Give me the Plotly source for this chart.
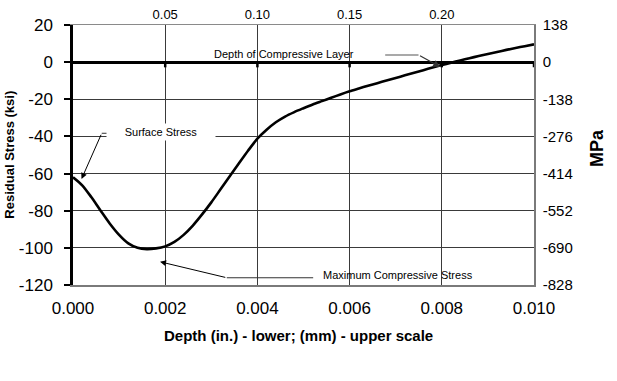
import plotly.graph_objects as go

# ---- data ----
depth_in = [0, 0.0002, 0.0004, 0.0006, 0.0008, 0.001, 0.0012, 0.0014, 0.0016, 0.0018,
            0.002, 0.0022, 0.0024, 0.0026, 0.0028, 0.003, 0.0032, 0.0034, 0.0036, 0.0038,
            0.004, 0.0042, 0.0044, 0.0046, 0.0048, 0.005, 0.0052, 0.0054, 0.0056, 0.0058,
            0.006, 0.0062, 0.0064, 0.0066, 0.0068, 0.007, 0.0072, 0.0074, 0.0076, 0.0078,
            0.008, 0.0082, 0.0084, 0.0086, 0.0088, 0.009, 0.0092, 0.0094, 0.0096, 0.0098,
            0.010]
stress_ksi = [-62, -66.3, -72.8, -80, -87, -93, -97.6, -100, -100.7, -100.3,
              -99.2, -96.8, -93, -88, -82, -75.5, -68.5, -61.5, -54.5, -47.6,
              -41.2, -36.4, -32.4, -29.3, -26.9, -24.8, -22.8, -21, -19.2, -17.4,
              -15.7, -14.2, -12.7, -11.3, -9.9, -8.5, -7.1, -5.7, -4.3, -2.9,
              -1.6, -0.3, 0.9, 2.1, 3.3, 4.4, 5.5, 6.6, 7.6, 8.6,
              9.6]

x_ticks_in = [0, 0.002, 0.004, 0.006, 0.008, 0.010]
x_ticktext_in = ["0.000", "0.002", "0.004", "0.006", "0.008", "0.010"]
top_ticks_mm = [0.05, 0.10, 0.15, 0.20]
top_ticktext_mm = ["0.05", "0.10", "0.15", "0.20"]
y_ticks_ksi = [20, 0, -20, -40, -60, -80, -100, -120]
y_ticks_mpa = [138, 0, -138, -276, -414, -552, -690, -828]

FONT = "Arial, Liberation Sans, sans-serif"

fig = go.Figure()
fig.add_trace(go.Scatter(x=depth_in, y=stress_ksi, mode="lines",
                         line=dict(color="black", width=2.6, shape="spline", smoothing=0.8),
                         showlegend=False, hoverinfo="skip"))
# invisible trace to activate the secondary (mm / MPa) axes
fig.add_trace(go.Scatter(x=[v * 25.4 for v in depth_in], y=[v * 6.9 for v in stress_ksi],
                         xaxis="x2", yaxis="y2", mode="lines", opacity=0,
                         showlegend=False, hoverinfo="skip"))

fig.update_layout(
    width=617, height=381,
    margin=dict(l=73, r=83, t=25, b=96, autoexpand=False),
    paper_bgcolor="white", plot_bgcolor="white",
    font=dict(family=FONT, color="black"),
    xaxis=dict(range=[0, 0.010], tickvals=x_ticks_in, ticktext=x_ticktext_in,
               showgrid=True, gridcolor="#3a3a3a", gridwidth=1,
               showline=True, linecolor="#7a7a7a", linewidth=2,
               ticks="", tickfont=dict(size=17), zeroline=False,
               ticklabelstandoff=7, automargin=False),
    xaxis2=dict(range=[0, 0.25], overlaying="x", side="top", anchor="y",
                tickvals=top_ticks_mm, ticktext=top_ticktext_mm,
                showgrid=False, showline=True, linecolor="#8a8a8a", linewidth=1,
                ticks="", tickfont=dict(size=13), zeroline=False,
                ticklabelstandoff=0, automargin=False),
    yaxis=dict(range=[-120, 20], tickvals=y_ticks_ksi,
               ticktext=[str(v) for v in y_ticks_ksi],
               showgrid=True, gridcolor="#3a3a3a", gridwidth=1,
               showline=True, linecolor="black", linewidth=2.5,
               ticks="outside", ticklen=6, tickwidth=2, tickcolor="black",
               tickfont=dict(size=17),
               zeroline=True, zerolinecolor="black", zerolinewidth=2.5,
               ticklabelstandoff=8, automargin=False),
    yaxis2=dict(range=[-828, 138], tickvals=y_ticks_mpa,
                ticktext=[str(v) for v in y_ticks_mpa],
                overlaying="y", side="right",
                anchor="x", showgrid=False, showline=True, linecolor="#7a7a7a", linewidth=1.5,
                ticks="", tickfont=dict(size=15), zeroline=False,
                ticklabelstandoff=4, automargin=False),
)

# small tick marks on the zero line (Excel axis crossing at 0)
for t in x_ticks_in[1:]:
    fig.add_shape(type="line", xref="x", yref="y", x0=t, x1=t, y0=0, y1=-2.8,
                  line=dict(color="black", width=2.5))

ann_font = dict(family=FONT, size=11, color="black")

# Surface Stress
fig.add_annotation(x=0.00191, y=-37.8, xref="x", yref="y", text="Surface Stress",
                   showarrow=False, font=ann_font, bgcolor="white",
                   borderpad=2, width=104)
fig.add_shape(type="line", xref="x", yref="y", x0=0.000623, x1=0.000875, y0=-38.3, y1=-38.3,
              line=dict(color="#333", width=1))
fig.add_annotation(x=0.000185, y=-62.9, ax=0.000623, ay=-38.3, axref="x", ayref="y",
                   xref="x", yref="y", text="", showarrow=True, arrowhead=2,
                   arrowsize=1.2, arrowwidth=1, arrowcolor="black")

# Depth of Compressive Layer
fig.add_annotation(x=0.004567, y=4.4, xref="x", yref="y", text="Depth of Compressive Layer",
                   showarrow=False, font=ann_font)
fig.add_shape(type="line", xref="x", yref="y", x0=0.006772, x1=0.007495, y0=3.85, y1=3.85,
              line=dict(color="#555", width=1.2))
fig.add_annotation(x=0.007966, y=-2.6, ax=0.007495, ay=3.85, axref="x", ayref="y",
                   xref="x", yref="y", text="", showarrow=True, arrowhead=2,
                   arrowsize=1.2, arrowwidth=1.2, arrowcolor="#333")

# Maximum Compressive Stress
fig.add_annotation(x=0.007048, y=-114.6, xref="x", yref="y", text="Maximum Compressive Stress",
                   showarrow=False, font=ann_font)
fig.add_shape(type="line", xref="x", yref="y", x0=0.003336, x1=0.00521, y0=-116.1, y1=-116.1,
              line=dict(color="#333", width=1))
fig.add_annotation(x=0.001888, y=-107.5, ax=0.003336, ay=-116.1, axref="x", ayref="y",
                   xref="x", yref="y", text="", showarrow=True, arrowhead=2,
                   arrowsize=1.2, arrowwidth=1, arrowcolor="black")

# axis titles
fig.add_annotation(xref="paper", yref="paper", x=-0.1396, y=0.5, textangle=-90,
                   text="<b>Residual Stress (ksi)</b>", showarrow=False,
                   font=dict(family=FONT, size=13), xanchor="center", yanchor="middle")
fig.add_annotation(xref="paper", yref="paper", x=0.4895, y=-0.196,
                   text="<b>Depth (in.) - lower; (mm) - upper scale</b>", showarrow=False,
                   font=dict(family=FONT, size=15), xanchor="center", yanchor="middle")
fig.add_annotation(xref="paper", yref="paper", x=1.1367, y=0.527, textangle=-90,
                   text="<b>MPa</b>", showarrow=False,
                   font=dict(family=FONT, size=18), xanchor="center", yanchor="middle")

fig.write_html("out.html", config={"displayModeBar": False},
               post_script="document.body.style.margin='0px';document.body.style.padding='0px';")
